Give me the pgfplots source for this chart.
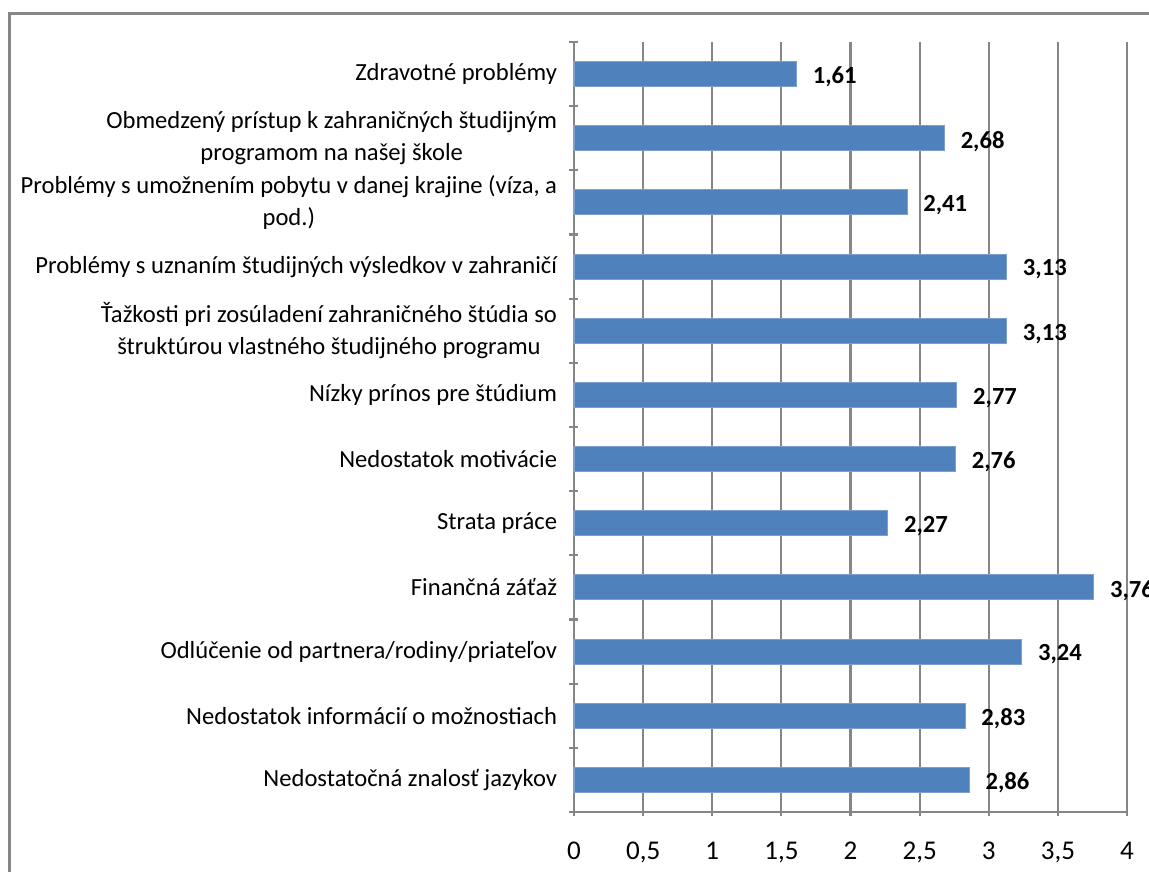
\documentclass[border=0pt]{standalone}
\usepackage{fontspec}
\setmainfont{Carlito}
\usepackage{pgfplots}
\pgfplotsset{compat=1.18}
\definecolor{barblue}{HTML}{4F81BD}
\definecolor{gridgrey}{HTML}{868686}
\pgfplotsset{/pgf/number format/assume math mode=true}

\begin{document}
\begin{tikzpicture}[x=1cm,y=1cm]
\useasboundingbox (0,0) rectangle (11.49,8.72);
\begin{scope}
\clip (0,0) rectangle (11.49,8.72);
\draw[gridgrey, line width=0.6pt] (0.095,-1) -- (0.095,8.585) -- (13,8.585);
\begin{axis}[
  at={(5.74cm,0.60cm)}, anchor=south west,
  scale only axis,
  width=5.53cm, height=7.70cm,
  xbar, bar width=0.25cm,
  xmin=0, xmax=4,
  ymin=-0.5, ymax=11.5,
  xtick={0,0.5,...,4},
  xticklabel={\pgfmathprintnumber[use comma]{\tick}},
  ytick={0,...,11},
  yticklabels={
    {Nedostatočná znalosť jazykov},
    {Nedostatok informácií o možnostiach},
    {Odlúčenie od partnera/rodiny/priateľov},
    {Finančná záťaž},
    {Strata práce},
    {Nedostatok motivácie},
    {Nízky prínos pre štúdium},
    {Ťažkosti pri zosúladení zahraničného štúdia so\\štruktúrou vlastného študijného programu},
    {Problémy s uznaním študijných výsledkov v zahraničí},
    {Problémy s umožnením pobytu v danej krajine (víza, a\\pod.)},
    {Obmedzený prístup k zahraničných študijným\\programom na našej škole},
    {Zdravotné problémy}},
  minor ytick={-0.5,0.5,...,11.5},
  major y tick style={draw=none},
  minor y tick style={draw=gridgrey, line width=0.6pt},
  major x tick style={draw=gridgrey, line width=0.6pt},
  tick align=outside,
  major tick length=0.09cm,
  minor tick length=0.09cm,
  axis x line=bottom, axis y line=left,
  axis line style={draw=gridgrey, line width=0.6pt, -},
  xmajorgrids, grid style={draw=gridgrey, line width=0.6pt},
  yticklabel style={font=\fontsize{7}{9.1}\selectfont, text=black, align=center},
  xticklabel style={font=\fontsize{7.7}{9}\selectfont, text=black, yshift=-0.04cm,
    text height=1.6ex, text depth=0.4ex},
  clip=false,
  nodes near coords={\pgfmathprintnumber[fixed,precision=2,fixed zerofill,use comma]{\pgfplotspointmeta}},
  every node near coord/.append style={font=\fontsize{7}{9}\selectfont\bfseries, anchor=west, xshift=0.04cm, yshift=-0.03cm, text=black},
]
\addplot[fill=barblue, draw=barblue!75!white, line width=0.3pt] coordinates {
  (2.86,0) (2.83,1) (3.24,2) (3.76,3) (2.27,4) (2.76,5)
  (2.77,6) (3.13,7) (3.13,8) (2.41,9) (2.68,10) (1.61,11)
};
\end{axis}
\end{scope}
\end{tikzpicture}
\end{document}
